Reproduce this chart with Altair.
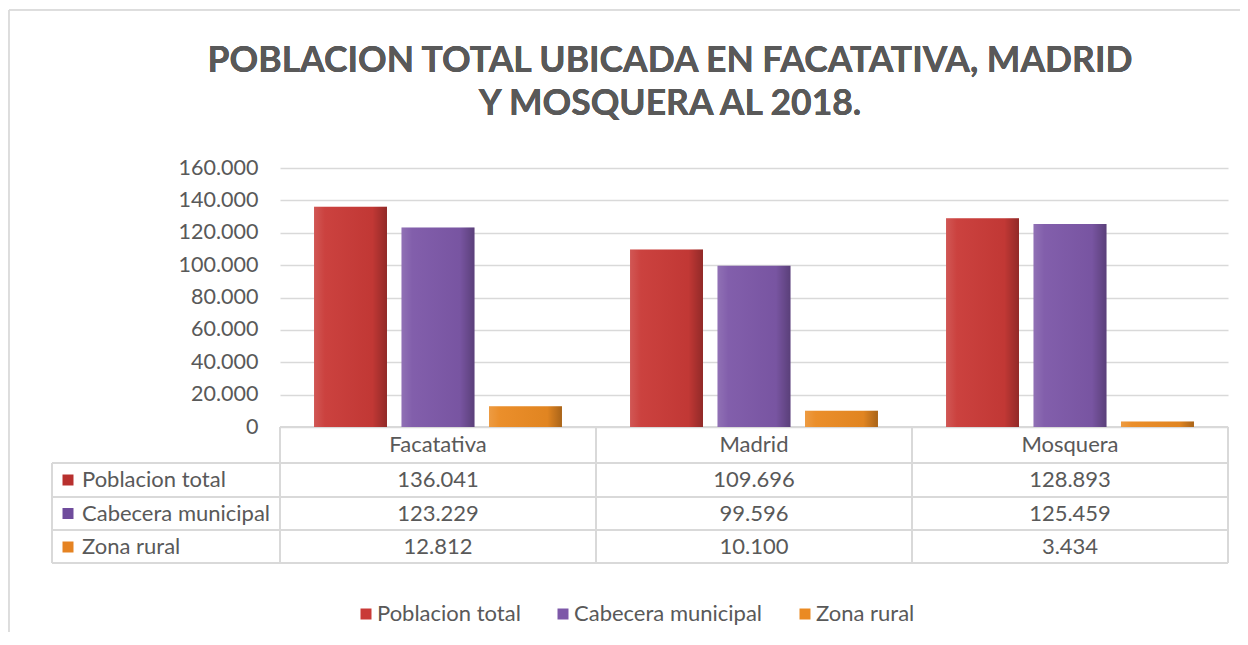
import altair as alt
import pandas as pd

categories = ["Facatativa", "Madrid", "Mosquera"]
series = ["Poblacion total", "Cabecera municipal", "Zona rural"]
poblacion_total = [136041, 109696, 128893]
cabecera_municipal = [123229, 99596, 125459]
zona_rural = [12812, 10100, 3434]
y_ticks = [0, 20000, 40000, 60000, 80000, 100000, 120000, 140000, 160000]
title_lines = ["POBLACION TOTAL UBICADA EN FACATATIVA, MADRID", "Y MOSQUERA AL 2018."]

colors = ["#C93A37", "#7D58A8", "#EA8A22"]
legend_colors = ["#B8302E", "#6F4C9C", "#E58322"]
TXT = "#595959"
GRID = "#D9D9D9"
FONT = "Lato"
FS = 22

rows = []
for s, vals in zip(series, [poblacion_total, cabecera_municipal, zona_rural]):
    for c, v in zip(categories, vals):
        rows.append({"cat": c, "series": s, "value": v,
                     "label": f"{v:,}".replace(",", ".")})
df = pd.DataFrame(rows)
cat_df = pd.DataFrame({"cat": categories})
ser_df = pd.DataFrame({"series": series})

W, H = 948, 259

xscale = alt.Scale(domain=categories, paddingInner=0, paddingOuter=0)
off_scale = alt.Scale(domain=series, paddingInner=0.166, paddingOuter=0.389)
yscale = alt.Scale(domain=[0, 160000])
row_scale = alt.Scale(type="point", domain=series, range=[312, 379], padding=0)

base = alt.Chart(df)

bars = base.mark_bar().encode(
    x=alt.X("cat:N", scale=xscale, axis=None),
    xOffset=alt.XOffset("series:N", scale=off_scale),
    y=alt.Y("value:Q", scale=yscale,
            axis=alt.Axis(values=y_ticks, labelExpr="replace(format(datum.value, ','), ',', '.')",
                          grid=True, gridColor=GRID, gridWidth=1.5, domain=False, ticks=False,
                          labelFont=FONT, labelFontSize=21.5, labelColor=TXT, labelPadding=22, title=None)),
    color=alt.Color("series:N", scale=alt.Scale(domain=series, range=colors),
                    legend=alt.Legend(orient="none", direction="horizontal", legendX=75, legendY=435,
                                      title=None, symbolType="square", symbolSize=121,
                                      symbolStrokeWidth=0, labelFont=FONT, labelFontSize=FS,
                                      labelColor=TXT, labelOffset=0, columnPadding=31,
                                      labelLimit=0, padding=0)),
)

shade = base.mark_bar(
    fill=alt.Gradient(gradient="linear", x1=0, x2=1, y1=0, y2=0,
                      stops=[alt.GradientStop(offset=0, color="rgba(255,255,255,0.15)"),
                             alt.GradientStop(offset=0.15, color="rgba(255,255,255,0.04)"),
                             alt.GradientStop(offset=0.8, color="rgba(0,0,0,0.04)"),
                             alt.GradientStop(offset=1, color="rgba(0,0,0,0.28)")])
).encode(
    x=alt.X("cat:N", scale=xscale, axis=None),
    xOffset=alt.XOffset("series:N", scale=off_scale),
    y=alt.Y("value:Q", scale=yscale, axis=None),
)

cell_text = base.mark_text(font=FONT, fontSize=FS, color=TXT, baseline="middle").encode(
    x=alt.X("cat:N", scale=xscale, axis=None),
    y=alt.Y("series:N", scale=row_scale, axis=None),
    text="label:N",
)

header_text = alt.Chart(cat_df).mark_text(font=FONT, fontSize=FS, color=TXT, baseline="middle").encode(
    x=alt.X("cat:N", scale=xscale, axis=None),
    y=alt.value(277),
    text="cat:N",
)

row_labels = alt.Chart(ser_df).mark_text(font=FONT, fontSize=FS, color=TXT, baseline="middle", align="left").encode(
    x=alt.value(-198),
    y=alt.Y("series:N", scale=row_scale, axis=None),
    text="series:N",
)

row_squares = alt.Chart(ser_df).mark_square(size=121, opacity=1).encode(
    x=alt.value(-212),
    y=alt.Y("series:N", scale=row_scale, axis=None),
    color=alt.Color("series:N", scale=alt.Scale(domain=series, range=legend_colors), legend=None),
)

def hline(y, x1, x2, color=GRID, w=1.5):
    return alt.Chart(cat_df).mark_rule(color=color, strokeWidth=w).encode(
        x=alt.value(x1), x2=alt.value(x2), y=alt.value(y))

def vline(x, y1, y2, color=GRID, w=1.5):
    return alt.Chart(cat_df).mark_rule(color=color, strokeWidth=w).encode(
        x=alt.value(x), y=alt.value(y1), y2=alt.value(y2))

lines = [hline(259, 0, W), hline(295, -228, W), hline(329, -228, W), hline(362, -228, W), hline(395, -228, W),
         vline(-228, 295, 395), vline(0, 259, 395), vline(316, 259, 395), vline(632, 259, 395), vline(W, 259, 395),
         hline(-158, -271, 960, color="#D9D9D9", w=1), vline(-271, -158, 470, color="#D9D9D9", w=1)]

title1 = alt.Chart(cat_df).mark_text(font=FONT, fontSize=35.5, fontWeight="bold", color=TXT,
                                     baseline="middle", text=title_lines[0]).encode(
    x=alt.value(390), y=alt.value(-107))
title2 = alt.Chart(cat_df).mark_text(font=FONT, fontSize=35.5, fontWeight="bold", color=TXT,
                                     baseline="middle", text=title_lines[1]).encode(
    x=alt.value(390), y=alt.value(-64))

chart = alt.layer(
    *lines, bars, shade, cell_text, header_text, row_labels, row_squares, title1, title2
).resolve_scale(
    y="independent", color="independent"
).properties(
    width=W, height=H,
    autosize=alt.AutoSizeParams(type="none"),
    padding={"left": 272, "top": 160, "right": 12, "bottom": 205},
).configure_view(stroke=None)

chart.save("out.html", embed_options={"renderer": "svg", "actions": False})
